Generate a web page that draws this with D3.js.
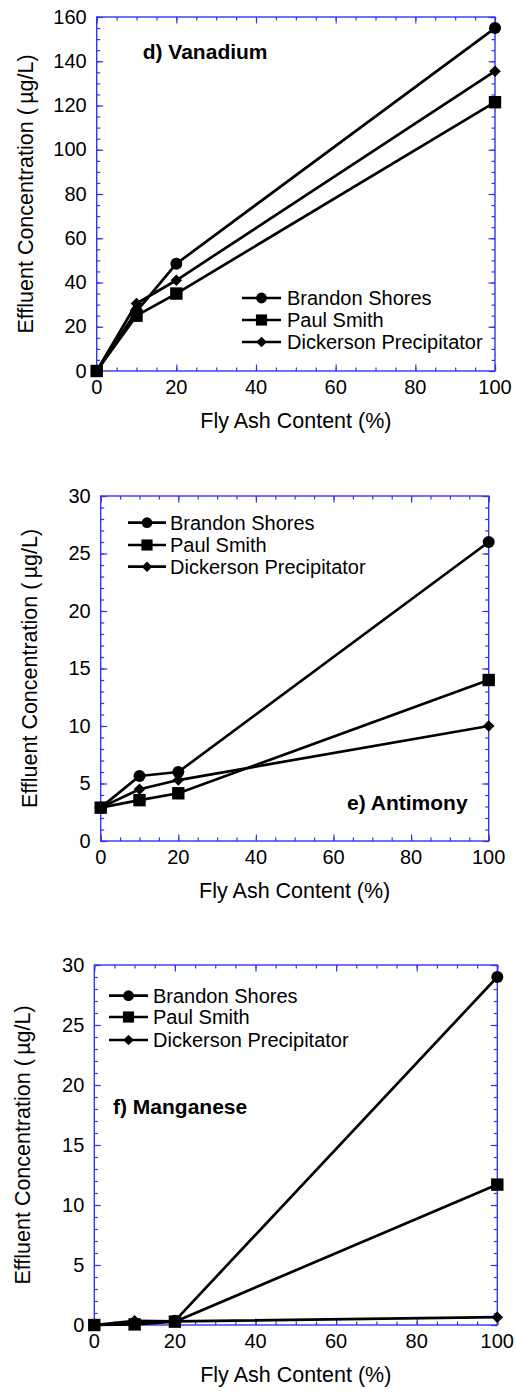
<!DOCTYPE html>
<html>
<head>
<meta charset="utf-8">
<script src="https://cdn.jsdelivr.net/npm/d3@7"></script>
<style>
  html, body { margin: 0; padding: 0; background: #fff; }
  svg { display: block; font-family: "Liberation Sans", Arial, Helvetica, sans-serif; }
</style>
</head>
<body>
<svg id="chart" width="516" height="1393"></svg>
<script>
// ---------------- DATA ----------------
const flyAsh = [0, 10, 20, 100];
const seriesNames = ["Brandon Shores", "Paul Smith", "Dickerson Precipitator"];
const seriesShapes = ["circle", "square", "diamond"];

// d) Vanadium
const vanadiumBrandon = [0, 27, 48.5, 155];
const vanadiumPaul = [0, 25, 35, 121.5];
const vanadiumDickerson = [0, 30.5, 41, 135.5];

// e) Antimony
const antimonyBrandon = [2.9, 5.65, 6.0, 26.0];
const antimonyPaul = [2.9, 3.55, 4.15, 14.0];
const antimonyDickerson = [2.9, 4.5, 5.3, 10.0];

// f) Manganese
const manganeseBrandon = [0, 0.1, 0.35, 29.0];
const manganesePaul = [0, 0.05, 0.28, 11.7];
const manganeseDickerson = [0, 0.35, 0.3, 0.65];

const xTicks = [0, 20, 40, 60, 80, 100];
const vanadiumTicks = [0, 20, 40, 60, 80, 100, 120, 140, 160];
const smallTicks = [0, 5, 10, 15, 20, 25, 30];

const xTitle = "Fly Ash Content (%)";
const yTitle = "Effluent Concentration (\u2009\u00B5g/L)";

// ---------------- LAYOUT ----------------
const panels = [
  { title: "d) Vanadium", box: [96.7, 17, 495, 371], yMax: 160, yTicks: vanadiumTicks, yMinor: 5,
    series: [vanadiumBrandon, vanadiumPaul, vanadiumDickerson],
    titlePos: [142.7, 59], legend: { x0: 242, x1: 281, tx: 287, rows: [298, 320, 342] } },
  { title: "e) Antimony", box: [100.7, 496, 488.7, 841], yMax: 30, yTicks: smallTicks, yMinor: 1,
    series: [antimonyBrandon, antimonyPaul, antimonyDickerson],
    titlePos: [347, 810], legend: { x0: 128, x1: 166, tx: 170, rows: [522.7, 545, 566.7] } },
  { title: "f) Manganese", box: [94.3, 965, 497.3, 1325], yMax: 30, yTicks: smallTicks, yMinor: 1,
    series: [manganeseBrandon, manganesePaul, manganeseDickerson],
    titlePos: [113, 1114], legend: { x0: 109, x1: 148, tx: 153, rows: [995.7, 1017, 1040] } }
];

const axisColor = "#3535f0";
const lineW = 2.7;
const svg = d3.select("#chart");

function drawMarker(g, shape, cx, cy, scale) {
  const s = scale || 1;
  if (shape === "circle") {
    g.append("circle").attr("cx", cx).attr("cy", cy).attr("r", 6 * s).attr("fill", "#000");
  } else if (shape === "square") {
    const h = 6.2 * s;
    g.append("rect").attr("x", cx - h).attr("y", cy - h).attr("width", 2 * h).attr("height", 2 * h).attr("fill", "#000");
  } else {
    const h = 5.8 * s;
    g.append("path").attr("d", `M${cx},${cy - h}L${cx + h},${cy}L${cx},${cy + h}L${cx - h},${cy}Z`).attr("fill", "#000");
  }
}

panels.forEach(p => {
  const [L, T, R, B] = p.box;
  const x = d3.scaleLinear().domain([0, 100]).range([L, R]);
  const y = d3.scaleLinear().domain([0, p.yMax]).range([B, T]);
  const g = svg.append("g");

  const xMinor = d3.range(0, 100.001, 5);
  const yMinorVals = d3.range(0, p.yMax + 0.001, p.yMinor);
  const mkAxis = (axisFn, scale, vals, len) =>
    axisFn(scale).tickValues(vals).tickSize(len).tickSizeOuter(0).tickFormat("");

  const axesG = g.append("g").attr("class", "ticks");
  axesG.append("g").attr("transform", `translate(0,${B})`).call(mkAxis(d3.axisBottom, x, xMinor, -3.5));
  axesG.append("g").attr("transform", `translate(0,${B})`).call(mkAxis(d3.axisBottom, x, xTicks, -6.5));
  axesG.append("g").attr("transform", `translate(0,${T})`).call(mkAxis(d3.axisTop, x, xMinor, -3.5));
  axesG.append("g").attr("transform", `translate(0,${T})`).call(mkAxis(d3.axisTop, x, xTicks, -6.5));
  axesG.append("g").attr("transform", `translate(${L},0)`).call(mkAxis(d3.axisLeft, y, yMinorVals, -3.5));
  axesG.append("g").attr("transform", `translate(${L},0)`).call(mkAxis(d3.axisLeft, y, p.yTicks, -6.5));
  axesG.append("g").attr("transform", `translate(${R},0)`).call(mkAxis(d3.axisRight, y, yMinorVals, -3.5));
  axesG.append("g").attr("transform", `translate(${R},0)`).call(mkAxis(d3.axisRight, y, p.yTicks, -6.5));
  axesG.selectAll(".domain").remove();
  axesG.selectAll("line").attr("stroke", axisColor).attr("stroke-width", 1.2);

  g.append("rect").attr("x", L).attr("y", T).attr("width", R - L).attr("height", B - T)
    .attr("fill", "none").attr("stroke", axisColor).attr("stroke-width", 1.4);

  g.selectAll(".xl").data(xTicks).enter().append("text")
    .attr("x", d => x(d)).attr("y", B + 23).attr("text-anchor", "middle")
    .attr("font-size", 20).attr("fill", "#000").text(d => d);
  g.selectAll(".yl").data(p.yTicks).enter().append("text")
    .attr("x", L - 10).attr("y", d => y(d)).attr("dy", "0.33em").attr("text-anchor", "end")
    .attr("font-size", 20).attr("fill", "#000").text(d => d);

  g.append("text").attr("x", (L + R) / 2).attr("y", B + 57).attr("text-anchor", "middle")
    .attr("font-size", 21.5).attr("fill", "#000").text(xTitle);
  g.append("text").attr("transform", `translate(${L - 64},${(T + B) / 2}) rotate(-90)`)
    .attr("text-anchor", "middle").attr("font-size", 21.5).attr("fill", "#000").text(yTitle);

  g.append("text").attr("x", p.titlePos[0]).attr("y", p.titlePos[1])
    .attr("font-size", 21).attr("font-weight", "bold").attr("fill", "#000").text(p.title);

  const line = d3.line().x((d, i) => x(flyAsh[i])).y(d => y(d));
  p.series.forEach(s => {
    g.append("path").datum(s).attr("d", line).attr("fill", "none")
      .attr("stroke", "#000").attr("stroke-width", lineW).attr("stroke-linejoin", "round");
  });
  [0, 2, 1].forEach(k => {
    p.series[k].forEach((v, i) => drawMarker(g, seriesShapes[k], x(flyAsh[i]), y(v)));
  });

  const lg = g.append("g");
  seriesNames.forEach((name, k) => {
    const yy = p.legend.rows[k];
    lg.append("line").attr("x1", p.legend.x0).attr("x2", p.legend.x1).attr("y1", yy).attr("y2", yy)
      .attr("stroke", "#000").attr("stroke-width", lineW);
    drawMarker(lg, seriesShapes[k], (p.legend.x0 + p.legend.x1) / 2, yy, 0.9);
    lg.append("text").attr("x", p.legend.tx).attr("y", yy).attr("dy", "0.35em")
      .attr("font-size", 20).attr("fill", "#000").text(name);
  });
});
</script>
</body>
</html>
